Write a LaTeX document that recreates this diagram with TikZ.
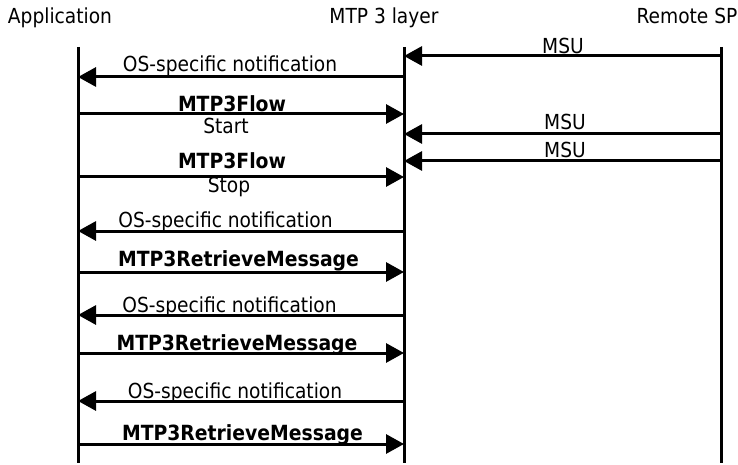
\documentclass[tikz,border=0pt]{standalone}
\usepackage{fontspec}
\setmainfont{DejaVu Sans Condensed}
\usetikzlibrary{arrows.meta}
\tikzset{
  lifeline/.style={line width=3pt},
  msg/.style={line width=3pt,-{Triangle[length=18pt,width=19pt]}},
  lbl/.style={anchor=base,inner sep=0pt,font=\fontsize{20.7}{24}\selectfont},
  blbl/.style={anchor=base,inner sep=0pt,font=\fontsize{20.9}{24}\selectfont\bfseries},
}
\begin{document}
\begin{tikzpicture}[x=1pt,y=-1pt]
\useasboundingbox (0,0) rectangle (738,465);
% headers
\node[lbl] (happ) at (60,24) {Application};
\node[lbl] (hmtp) at (384,24) {MTP 3 layer};
\node[lbl] (hrem) at (687,24) {Remote SP};
% lifelines
\coordinate (at) at (78,47);  \coordinate (ab) at (78,463);
\coordinate (mt) at (404,47); \coordinate (mb) at (404,463);
\coordinate (rt) at (721,47); \coordinate (rb) at (721,463);
\draw[lifeline] (at) -- (ab);
\draw[lifeline] (mt) -- (mb);
\draw[lifeline] (rt) -- (rb);
% message end points
\foreach \n/\y in {1/56,4/134,5/161}{
  \coordinate (r\n) at (721,\y); \coordinate (m\n) at (404,\y);}
\foreach \n/\y in {2/77,3/114,6/177,7/231,8/272,9/315,10/353,11/401,12/444}{
  \coordinate (a\n) at (78,\y); \coordinate (m\n) at (404,\y);}
% messages
\draw[msg] (r1) -- (m1);
\node[lbl] (t1) at (563,54) {MSU};
\draw[msg] (m2) -- (a2);
\node[lbl] (t2) at (230,72) {OS-specific notification};
\draw[msg] (a3) -- (m3);
\node[blbl] (t3) at (232,112) {MTP3Flow};
\node[lbl] (t3b) at (226,134) {Start};
\draw[msg] (r4) -- (m4);
\node[lbl] (t4) at (565,130) {MSU};
\draw[msg] (r5) -- (m5);
\node[lbl] (t5) at (565,158) {MSU};
\draw[msg] (a6) -- (m6);
\node[blbl] (t6) at (232,168) {MTP3Flow};
\node[lbl] (t6b) at (229,193) {Stop};
\draw[msg] (m7) -- (a7);
\node[lbl] (t7) at (225.5,227) {OS-specific notification};
\draw[msg] (a8) -- (m8);
\node[blbl] (t8) at (238.5,266) {MTP3RetrieveMessage};
\draw[msg] (m9) -- (a9);
\node[lbl] (t9) at (229.5,312) {OS-specific notification};
\draw[msg] (a10) -- (m10);
\node[blbl] (t10) at (237,350) {MTP3RetrieveMessage};
\draw[msg] (m11) -- (a11);
\node[lbl] (t11) at (235,398) {OS-specific notification};
\draw[msg] (a12) -- (m12);
\node[blbl] (t12) at (242.5,440) {MTP3RetrieveMessage};
\end{tikzpicture}
\end{document}
